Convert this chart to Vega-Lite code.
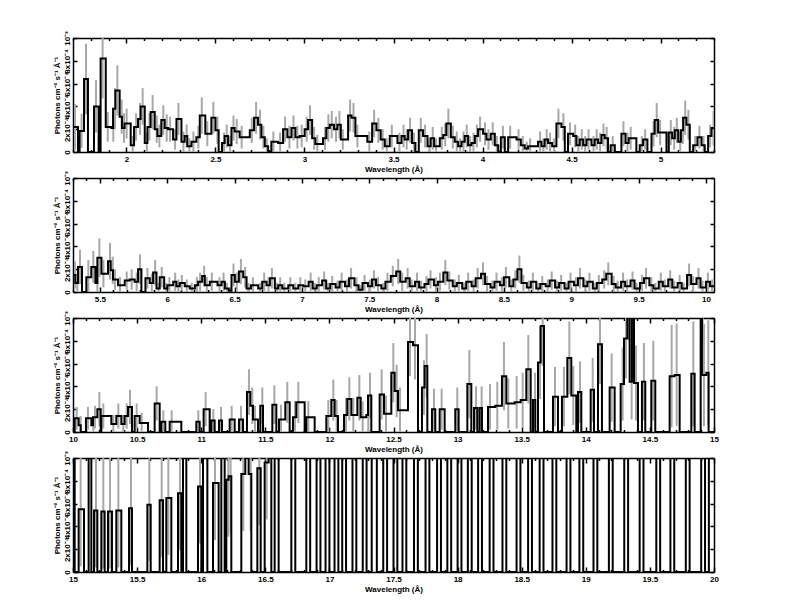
{
"$schema":"https://vega.github.io/schema/vega-lite/v6.json",
"background":"white",
"padding":{"left":53,"top":30,"right":5,"bottom":5},
"spacing":-4,
"config":{"view":{"stroke":null},"font":"Liberation Sans",
"axis":{"domainColor":"black","domainWidth":1.5,"tickColor":"black","tickWidth":1.5,"grid":false,"labelFontSize":8,"labelFontWeight":"bold","labelColor":"black","titleFontSize":8,"titleFontWeight":"bold","titleColor":"black","labelOverlap":false,"labelFlush":false,"labelBound":false}},
"datasets":{
"p1":[
{"w":1.700,"f":2.2,"e":2.0},{"w":1.728,"f":0,"e":0},{"w":1.737,"f":1.85,"e":1.5},{"w":1.762,"f":6.4,"e":3.1},{"w":1.784,"f":0,"e":0},{"w":1.818,"f":4.0,"e":2.3},{"w":1.844,"f":0,"e":0},{"w":1.855,"f":8.2,"e":3.5},{"w":1.884,"f":2.2,"e":1.3},{"w":1.915,"f":2.1,"e":1.2},{"w":1.925,"f":3.8,"e":1.8},{"w":1.938,"f":5.4,"e":2.2},{"w":1.962,"f":3.1,"e":1.5},{"w":1.975,"f":2.1,"e":1.3},{"w":1.990,"f":2.5,"e":1.3},{"w":2.024,"f":0.6,"e":0.8},{"w":2.043,"f":2.2,"e":1.2},{"w":2.065,"f":2.9,"e":1.4},{"w":2.080,"f":4.0,"e":1.6},{"w":2.103,"f":0.8,"e":0.9},{"w":2.118,"f":2.2,"e":1.2},{"w":2.136,"f":3.5,"e":1.5},{"w":2.159,"f":2.0,"e":1.2},{"w":2.174,"f":1.4,"e":1.0},{"w":2.196,"f":2.8,"e":1.3},{"w":2.215,"f":2.1,"e":1.2},{"w":2.234,"f":2.0,"e":1.1},{"w":2.262,"f":1.1,"e":0.9},{"w":2.281,"f":2.9,"e":1.4},{"w":2.309,"f":0.9,"e":0.9},{"w":2.327,"f":1.4,"e":1.0},{"w":2.342,"f":0.5,"e":0.7},{"w":2.365,"f":0.9,"e":0.9},{"w":2.393,"f":1.3,"e":1.0},{"w":2.412,"f":3.2,"e":1.6},{"w":2.443,"f":1.6,"e":1.1},{"w":2.477,"f":3.0,"e":1.4},{"w":2.500,"f":1.9,"e":1.2},{"w":2.518,"f":0,"e":0},{"w":2.537,"f":0.8,"e":0.9},{"w":2.552,"f":1.4,"e":1.0},{"w":2.571,"f":0.6,"e":0.8},{"w":2.590,"f":2.1,"e":1.1},{"w":2.608,"f":1.8,"e":1.1},{"w":2.636,"f":1.3,"e":1.0},{"w":2.693,"f":1.9,"e":1.1},{"w":2.717,"f":3.0,"e":1.4},{"w":2.739,"f":2.4,"e":1.3},{"w":2.758,"f":1.3,"e":1.0},{"w":2.777,"f":0.5,"e":0.7},{"w":2.796,"f":0,"e":0},{"w":2.814,"f":0.9,"e":0.9},{"w":2.852,"f":0.8,"e":0.9},{"w":2.880,"f":2.0,"e":1.1},{"w":2.904,"f":1.3,"e":1.0},{"w":2.927,"f":2.1,"e":1.1},{"w":2.949,"f":1.3,"e":1.0},{"w":2.973,"f":1.4,"e":1.0},{"w":3.001,"f":2.0,"e":1.1},{"w":3.020,"f":2.8,"e":1.3},{"w":3.043,"f":1.2,"e":1.0},{"w":3.061,"f":0.7,"e":0.8},{"w":3.104,"f":1.2,"e":1.0},{"w":3.123,"f":2.1,"e":1.2},{"w":3.142,"f":2.4,"e":1.2},{"w":3.166,"f":2.0,"e":1.1},{"w":3.185,"f":2.4,"e":1.2},{"w":3.204,"f":1.1,"e":0.9},{"w":3.245,"f":3.2,"e":1.4},{"w":3.264,"f":3.0,"e":1.3},{"w":3.286,"f":1.4,"e":1.0},{"w":3.353,"f":0.9,"e":0.9},{"w":3.380,"f":2.5,"e":1.2},{"w":3.404,"f":1.9,"e":1.1},{"w":3.428,"f":1.1,"e":0.9},{"w":3.451,"f":0.5,"e":0.7},{"w":3.479,"f":1.4,"e":1.0},{"w":3.522,"f":0.8,"e":0.9},{"w":3.545,"f":1.4,"e":1.0},{"w":3.563,"f":1.1,"e":0.9},{"w":3.582,"f":1.9,"e":1.1},{"w":3.604,"f":0.8,"e":0.9},{"w":3.623,"f":0,"e":0},{"w":3.642,"f":1.9,"e":1.1},{"w":3.666,"f":1.4,"e":1.0},{"w":3.691,"f":0.5,"e":0.7},{"w":3.709,"f":1.2,"e":1.0},{"w":3.728,"f":0.5,"e":0.7},{"w":3.760,"f":1.2,"e":1.0},{"w":3.779,"f":1.5,"e":1.0},{"w":3.797,"f":2.5,"e":1.3},{"w":3.822,"f":1.3,"e":1.0},{"w":3.844,"f":0.9,"e":0.9},{"w":3.863,"f":0.5,"e":0.7},{"w":3.882,"f":0.9,"e":0.9},{"w":3.900,"f":1.4,"e":1.0},{"w":3.919,"f":0.6,"e":0.8},{"w":3.938,"f":0.8,"e":0.9},{"w":3.957,"f":1.4,"e":1.0},{"w":3.975,"f":2.0,"e":1.1},{"w":4.003,"f":1.6,"e":1.0},{"w":4.022,"f":1.1,"e":0.9},{"w":4.046,"f":1.6,"e":1.0},{"w":4.069,"f":0.6,"e":0.8},{"w":4.088,"f":0,"e":0},{"w":4.103,"f":1.3,"e":1.0},{"w":4.125,"f":0,"e":0},{"w":4.144,"f":1.3,"e":1.0},{"w":4.191,"f":1.1,"e":0.9},{"w":4.215,"f":0.6,"e":0.8},{"w":4.237,"f":0.3,"e":0.6},{"w":4.256,"f":0.5,"e":0.7},{"w":4.312,"f":0.9,"e":0.9},{"w":4.331,"f":0.5,"e":0.7},{"w":4.349,"f":1.1,"e":0.9},{"w":4.368,"f":0.8,"e":0.9},{"w":4.391,"f":0.5,"e":0.7},{"w":4.415,"f":2.5,"e":1.3},{"w":4.443,"f":2.2,"e":1.2},{"w":4.462,"f":0,"e":0},{"w":4.480,"f":1.6,"e":1.0},{"w":4.509,"f":1.4,"e":1.0},{"w":4.527,"f":0.6,"e":0.8},{"w":4.546,"f":1.1,"e":0.9},{"w":4.565,"f":0.6,"e":0.8},{"w":4.584,"f":1.1,"e":0.9},{"w":4.612,"f":0.6,"e":0.8},{"w":4.630,"f":1.1,"e":0.9},{"w":4.649,"f":0.8,"e":0.9},{"w":4.668,"f":1.5,"e":1.0},{"w":4.686,"f":1.2,"e":1.0},{"w":4.705,"f":0,"e":0},{"w":4.720,"f":0.6,"e":0.8},{"w":4.743,"f":0,"e":0},{"w":4.780,"f":1.6,"e":1.1},{"w":4.803,"f":0.8,"e":0.9},{"w":4.821,"f":1.2,"e":1.0},{"w":4.864,"f":0,"e":0},{"w":4.883,"f":0.6,"e":0.8},{"w":4.902,"f":1.1,"e":0.9},{"w":4.926,"f":0,"e":0},{"w":4.949,"f":1.6,"e":1.1},{"w":4.967,"f":2.8,"e":1.5},{"w":4.986,"f":1.7,"e":1.1},{"w":5.033,"f":0,"e":0},{"w":5.046,"f":1.7,"e":1.1},{"w":5.065,"f":1.2,"e":1.0},{"w":5.080,"f":1.9,"e":1.1},{"w":5.099,"f":0.9,"e":0.9},{"w":5.114,"f":1.9,"e":1.2},{"w":5.127,"f":3.0,"e":1.5},{"w":5.145,"f":2.4,"e":1.3},{"w":5.164,"f":0,"e":0},{"w":5.183,"f":0.6,"e":0.8},{"w":5.207,"f":1.3,"e":1.0},{"w":5.230,"f":0.6,"e":0.8},{"w":5.248,"f":0,"e":0},{"w":5.267,"f":1.4,"e":1.0},{"w":5.286,"f":2.1,"e":1.5},{"w":5.300,"f":2.1,"e":0}
],
"p2":[
{"w":5.300,"f":1.5,"e":1.2},{"w":5.317,"f":0.8,"e":0.9},{"w":5.337,"f":2.2,"e":1.5},{"w":5.367,"f":0,"e":0},{"w":5.399,"f":1.3,"e":1.5},{"w":5.436,"f":2.2,"e":1.4},{"w":5.466,"f":0.8,"e":1.0},{"w":5.481,"f":3.0,"e":1.7},{"w":5.511,"f":1.6,"e":1.2},{"w":5.560,"f":2.7,"e":1.6},{"w":5.580,"f":1.9,"e":1.2},{"w":5.597,"f":1.1,"e":0.9},{"w":5.634,"f":0.6,"e":0.7},{"w":5.684,"f":1.0,"e":0.8},{"w":5.721,"f":1.1,"e":0.9},{"w":5.758,"f":0.9,"e":0.8},{"w":5.783,"f":2.0,"e":1.3},{"w":5.808,"f":0,"e":0},{"w":5.838,"f":1.2,"e":0.9},{"w":5.870,"f":0.8,"e":0.8},{"w":5.895,"f":1.7,"e":1.1},{"w":5.920,"f":0.3,"e":0.5},{"w":5.944,"f":1.3,"e":0.9},{"w":5.977,"f":0.3,"e":0.5},{"w":6.001,"f":0.6,"e":0.7},{"w":6.044,"f":0.9,"e":0.8},{"w":6.068,"f":0.5,"e":0.6},{"w":6.093,"f":0.8,"e":0.7},{"w":6.130,"f":0.5,"e":0.6},{"w":6.167,"f":0.3,"e":0.5},{"w":6.205,"f":0.6,"e":0.7},{"w":6.229,"f":0.9,"e":0.8},{"w":6.259,"f":1.4,"e":0.9},{"w":6.279,"f":0.6,"e":0.7},{"w":6.316,"f":0.9,"e":0.8},{"w":6.373,"f":0.6,"e":0.7},{"w":6.403,"f":0.9,"e":0.8},{"w":6.428,"f":0.3,"e":0.5},{"w":6.457,"f":0.1,"e":0.3},{"w":6.477,"f":1.5,"e":1.0},{"w":6.502,"f":0.9,"e":0.8},{"w":6.532,"f":1.8,"e":1.1},{"w":6.564,"f":1.3,"e":0.9},{"w":6.589,"f":0.3,"e":0.5},{"w":6.621,"f":0.6,"e":0.7},{"w":6.675,"f":0.3,"e":0.5},{"w":6.705,"f":0.9,"e":0.8},{"w":6.737,"f":0.6,"e":0.7},{"w":6.762,"f":1.2,"e":0.9},{"w":6.799,"f":0.3,"e":0.5},{"w":6.824,"f":0.6,"e":0.7},{"w":6.854,"f":0.3,"e":0.5},{"w":6.899,"f":0.6,"e":0.7},{"w":6.936,"f":0.3,"e":0.5},{"w":6.973,"f":0.6,"e":0.7},
{"w":7.01,"f":0.5,"e":0.6},{"w":7.05,"f":0.9,"e":0.8},{"w":7.08,"f":0.3,"e":0.5},{"w":7.11,"f":0.6,"e":0.7},{"w":7.15,"f":1.0,"e":0.8},{"w":7.18,"f":0.3,"e":0.5},{"w":7.21,"f":0.7,"e":0.7},{"w":7.25,"f":0.4,"e":0.6},{"w":7.28,"f":0.9,"e":0.8},{"w":7.32,"f":0.5,"e":0.6},{"w":7.35,"f":1.2,"e":0.9},{"w":7.39,"f":0.6,"e":0.7},{"w":7.42,"f":0.2,"e":0.4},{"w":7.45,"f":0.8,"e":0.7},{"w":7.49,"f":0.5,"e":0.6},{"w":7.52,"f":1.1,"e":0.8},{"w":7.55,"f":0.6,"e":0.7},{"w":7.59,"f":0.3,"e":0.5},{"w":7.62,"f":0.9,"e":0.8},{"w":7.66,"f":1.4,"e":0.9},{"w":7.70,"f":1.8,"e":1.1},{"w":7.73,"f":0.9,"e":0.8},{"w":7.77,"f":1.2,"e":0.9},{"w":7.80,"f":0.5,"e":0.6},{"w":7.84,"f":0.9,"e":0.8},{"w":7.87,"f":0.4,"e":0.6},{"w":7.91,"f":0.7,"e":0.7},{"w":7.94,"f":1.1,"e":0.8},{"w":7.98,"f":0.6,"e":0.7},{"w":8.01,"f":0.9,"e":0.8},{"w":8.05,"f":1.7,"e":1.1},{"w":8.08,"f":1.0,"e":0.8},{"w":8.12,"f":0.5,"e":0.6},{"w":8.15,"f":0.8,"e":0.7},{"w":8.19,"f":0.3,"e":0.5},{"w":8.22,"f":0.9,"e":0.8},{"w":8.26,"f":0.5,"e":0.6},{"w":8.29,"f":1.2,"e":0.9},{"w":8.33,"f":1.6,"e":1.0},{"w":8.36,"f":0.7,"e":0.7},{"w":8.40,"f":0.4,"e":0.6},{"w":8.43,"f":0.9,"e":0.8},{"w":8.47,"f":0.6,"e":0.7},{"w":8.50,"f":1.3,"e":0.9},{"w":8.54,"f":0.5,"e":0.6},{"w":8.57,"f":1.1,"e":0.8},{"w":8.60,"f":2.0,"e":1.2},{"w":8.63,"f":0.8,"e":0.7},{"w":8.67,"f":0.4,"e":0.6},{"w":8.70,"f":0.9,"e":0.8},{"w":8.74,"f":0.3,"e":0.5},{"w":8.77,"f":0.7,"e":0.7},{"w":8.81,"f":0.5,"e":0.6},{"w":8.84,"f":1.0,"e":0.8},{"w":8.88,"f":0.4,"e":0.6},{"w":8.91,"f":0.8,"e":0.7},{"w":8.95,"f":0.3,"e":0.5},{"w":8.98,"f":0.9,"e":0.8},{"w":9.02,"f":0.6,"e":0.7},{"w":9.05,"f":1.2,"e":0.9},{"w":9.09,"f":0.5,"e":0.6},{"w":9.12,"f":0.9,"e":0.8},{"w":9.16,"f":0.3,"e":0.5},{"w":9.19,"f":0.8,"e":0.7},{"w":9.23,"f":1.1,"e":0.8},{"w":9.26,"f":1.6,"e":1.0},{"w":9.30,"f":0.7,"e":0.7},{"w":9.33,"f":0.4,"e":0.6},{"w":9.37,"f":0.9,"e":0.8},{"w":9.40,"f":0.5,"e":0.6},{"w":9.44,"f":1.0,"e":0.8},{"w":9.47,"f":0.3,"e":0.5},{"w":9.51,"f":0.8,"e":0.7},{"w":9.54,"f":1.2,"e":0.9},{"w":9.58,"f":0.6,"e":0.7},{"w":9.61,"f":0.3,"e":0.5},{"w":9.65,"f":0.9,"e":0.8},{"w":9.68,"f":0.5,"e":0.6},{"w":9.72,"f":1.1,"e":0.8},{"w":9.75,"f":0.4,"e":0.6},{"w":9.79,"f":0.8,"e":0.7},{"w":9.82,"f":0.3,"e":0.5},{"w":9.86,"f":1.5,"e":1.0},{"w":9.89,"f":0.7,"e":0.7},{"w":9.93,"f":1.2,"e":0.9},{"w":9.96,"f":0.4,"e":0.6},{"w":10.00,"f":0.9,"e":0.8},{"w":10.03,"f":0.5,"e":0.6},{"w":10.06,"f":0.5,"e":0}
],
"p3":[
{"w":10.000,"f":0,"e":0},{"w":10.013,"f":1.2,"e":1.0},{"w":10.044,"f":0.6,"e":0.8},{"w":10.060,"f":0,"e":0},{"w":10.101,"f":1.2,"e":1.0},{"w":10.143,"f":0.6,"e":0.8},{"w":10.156,"f":1.3,"e":1.0},{"w":10.190,"f":2.0,"e":1.5},{"w":10.216,"f":0,"e":0},{"w":10.221,"f":1.4,"e":1.1},{"w":10.299,"f":0.7,"e":0.8},{"w":10.338,"f":1.4,"e":1.1},{"w":10.377,"f":0.7,"e":0.8},{"w":10.403,"f":1.4,"e":1.1},{"w":10.429,"f":2.2,"e":1.5},{"w":10.460,"f":0,"e":0},{"w":10.481,"f":1.4,"e":1.1},{"w":10.520,"f":0.8,"e":0.9},{"w":10.585,"f":0,"e":0},{"w":10.637,"f":2.5,"e":1.5},{"w":10.676,"f":0,"e":0},{"w":10.689,"f":0.9,"e":1.0},{"w":10.720,"f":0,"e":0},{"w":10.754,"f":0.9,"e":1.0},{"w":10.845,"f":0,"e":0},{"w":10.962,"f":0.9,"e":1.0},{"w":10.988,"f":0,"e":0},{"w":11.019,"f":2.0,"e":1.5},{"w":11.066,"f":0,"e":0},{"w":11.079,"f":1.0,"e":1.0},{"w":11.105,"f":0,"e":0},{"w":11.139,"f":1.0,"e":1.2},{"w":11.162,"f":0,"e":0},{"w":11.222,"f":1.1,"e":1.2},{"w":11.261,"f":0,"e":0},{"w":11.295,"f":1.1,"e":1.2},{"w":11.326,"f":0,"e":0},{"w":11.357,"f":3.5,"e":2.0},{"w":11.383,"f":2.3,"e":1.6},{"w":11.404,"f":1.1,"e":1.2},{"w":11.443,"f":0,"e":0},{"w":11.461,"f":2.3,"e":1.6},{"w":11.482,"f":0,"e":0},{"w":11.555,"f":2.4,"e":1.7},{"w":11.586,"f":0,"e":0},{"w":11.607,"f":1.1,"e":1.3},{"w":11.656,"f":2.6,"e":1.8},{"w":11.690,"f":0,"e":0},{"w":11.716,"f":1.3,"e":1.4},{"w":11.742,"f":2.6,"e":1.8},{"w":11.807,"f":0,"e":0},{"w":11.820,"f":1.3,"e":1.4},{"w":11.885,"f":0,"e":0},{"w":11.976,"f":1.4,"e":1.4},{"w":12.015,"f":2.8,"e":1.8},{"w":12.041,"f":1.4,"e":1.4},{"w":12.067,"f":0,"e":0},{"w":12.114,"f":1.5,"e":1.5},{"w":12.140,"f":2.9,"e":1.9},{"w":12.171,"f":1.5,"e":1.5},{"w":12.218,"f":3.0,"e":2.0},{"w":12.244,"f":1.3,"e":1.4},{"w":12.288,"f":1.5,"e":1.5},{"w":12.301,"f":3.2,"e":2.0},{"w":12.327,"f":0,"e":0},{"w":12.392,"f":3.3,"e":2.2},{"w":12.426,"f":1.6,"e":1.6},{"w":12.483,"f":5.2,"e":2.6},{"w":12.509,"f":3.6,"e":2.3},{"w":12.535,"f":1.9,"e":2.0},{"w":12.613,"f":7.9,"e":3.0},{"w":12.652,"f":7.6,"e":3.0},{"w":12.691,"f":0,"e":0},{"w":12.722,"f":3.9,"e":2.4},{"w":12.743,"f":5.8,"e":2.8},{"w":12.764,"f":0,"e":0},{"w":12.800,"f":2.0,"e":1.8},{"w":12.826,"f":0,"e":0},{"w":12.860,"f":2.0,"e":1.8},{"w":12.899,"f":0,"e":0},{"w":12.982,"f":2.0,"e":1.9},{"w":13.008,"f":0,"e":0},{"w":13.076,"f":4.2,"e":3.0},{"w":13.107,"f":0,"e":0},{"w":13.128,"f":2.1,"e":1.9},{"w":13.154,"f":0,"e":0},{"w":13.172,"f":2.1,"e":1.9},{"w":13.190,"f":0,"e":0},{"w":13.237,"f":2.2,"e":2.0},{"w":13.294,"f":2.3,"e":2.1},{"w":13.346,"f":4.9,"e":3.0},{"w":13.380,"f":2.5,"e":2.2},{"w":13.445,"f":2.6,"e":2.3},{"w":13.492,"f":2.8,"e":2.4},{"w":13.536,"f":5.5,"e":3.0},{"w":13.570,"f":0,"e":0},{"w":13.588,"f":2.8,"e":2.4},{"w":13.606,"f":0,"e":0},{"w":13.627,"f":6.1,"e":3.2},{"w":13.648,"f":9.3,"e":3.5},{"w":13.674,"f":0,"e":0},{"w":13.744,"f":3.1,"e":2.6},{"w":13.783,"f":0,"e":0},{"w":13.814,"f":3.1,"e":2.6},{"w":13.856,"f":6.5,"e":3.2},{"w":13.887,"f":3.2,"e":2.6},{"w":13.926,"f":0,"e":0},{"w":13.939,"f":3.5,"e":2.7},{"w":13.965,"f":0,"e":0},{"w":14.038,"f":3.7,"e":2.8},{"w":14.064,"f":0,"e":0},{"w":14.095,"f":7.7,"e":3.5},{"w":14.126,"f":0,"e":0},{"w":14.186,"f":3.9,"e":3.0},{"w":14.225,"f":0,"e":0},{"w":14.272,"f":4.2,"e":3.2},{"w":14.298,"f":8.2,"e":3.5},{"w":14.324,"f":12,"e":4},{"w":14.342,"f":4.4,"e":3.3},{"w":14.360,"f":12,"e":4},{"w":14.376,"f":4.3,"e":3.3},{"w":14.407,"f":0,"e":0},{"w":14.438,"f":4.4,"e":3.4},{"w":14.464,"f":0,"e":0},{"w":14.511,"f":4.5,"e":3.5},{"w":14.542,"f":0,"e":0},{"w":14.654,"f":4.9,"e":4.5},{"w":14.693,"f":5.0,"e":4.5},{"w":14.732,"f":0,"e":0},{"w":14.823,"f":5.1,"e":4.6},{"w":14.849,"f":0,"e":0},{"w":14.896,"f":12,"e":4},{"w":14.906,"f":5.0,"e":4.5},{"w":14.940,"f":5.2,"e":4.6},{"w":14.958,"f":0,"e":0},{"w":15.000,"f":0,"e":0}
],
"p4":[
{"w":15.000,"f":12,"e":0},{"w":15.013,"f":0,"e":0},{"w":15.044,"f":5.5,"e":5},{"w":15.086,"f":0,"e":0},{"w":15.122,"f":12,"e":0},{"w":15.143,"f":0,"e":0},{"w":15.164,"f":5.4,"e":5},{"w":15.190,"f":0,"e":0},{"w":15.221,"f":5.3,"e":5},{"w":15.247,"f":0,"e":0},{"w":15.273,"f":5.3,"e":5},{"w":15.304,"f":0,"e":0},{"w":15.338,"f":5.4,"e":5},{"w":15.377,"f":0,"e":0},{"w":15.437,"f":5.6,"e":5},{"w":15.460,"f":0,"e":0},{"w":15.580,"f":5.9,"e":5},{"w":15.606,"f":0,"e":0},{"w":15.676,"f":6.3,"e":5},{"w":15.702,"f":0,"e":0},{"w":15.728,"f":6.5,"e":5},{"w":15.767,"f":0,"e":0},{"w":15.819,"f":6.9,"e":5},{"w":15.845,"f":0,"e":0},{"w":15.858,"f":12,"e":0},{"w":15.884,"f":0,"e":0},{"w":15.975,"f":7.5,"e":5},{"w":16.001,"f":0,"e":0},{"w":16.014,"f":12,"e":0},{"w":16.048,"f":0,"e":0},{"w":16.092,"f":7.8,"e":5},{"w":16.136,"f":0,"e":0},{"w":16.157,"f":12,"e":0},{"w":16.183,"f":0,"e":0},{"w":16.196,"f":8.1,"e":5},{"w":16.214,"f":8.4,"e":5},{"w":16.235,"f":0,"e":0},{"w":16.313,"f":8.6,"e":5},{"w":16.344,"f":12,"e":0},{"w":16.370,"f":8.6,"e":5},{"w":16.391,"f":0,"e":0},{"w":16.438,"f":9.1,"e":5},{"w":16.464,"f":0,"e":0},{"w":16.495,"f":9.6,"e":5},{"w":16.526,"f":12,"e":0},{"w":16.547,"f":0,"e":0},{"w":16.573,"f":12,"e":0},{"w":16.604,"f":0,"e":0},{"w":16.703,"f":12,"e":0},{"w":16.734,"f":0,"e":0},{"w":16.820,"f":12,"e":0},{"w":16.85,"f":0,"e":0},{"w":16.90,"f":12,"e":0},{"w":16.93,"f":0,"e":0},{"w":16.97,"f":12,"e":0},{"w":17.00,"f":0,"e":0},{"w":17.04,"f":12,"e":0},{"w":17.07,"f":0,"e":0},{"w":17.10,"f":12,"e":0},{"w":17.13,"f":0,"e":0},{"w":17.18,"f":12,"e":0},{"w":17.21,"f":0,"e":0},{"w":17.26,"f":12,"e":0},{"w":17.29,"f":0,"e":0},{"w":17.33,"f":12,"e":0},{"w":17.37,"f":0,"e":0},{"w":17.42,"f":12,"e":0},{"w":17.45,"f":0,"e":0},{"w":17.50,"f":12,"e":0},{"w":17.53,"f":0,"e":0},{"w":17.57,"f":12,"e":0},{"w":17.60,"f":0,"e":0},{"w":17.66,"f":12,"e":0},{"w":17.69,"f":0,"e":0},{"w":17.75,"f":12,"e":0},{"w":17.78,"f":0,"e":0},{"w":17.84,"f":12,"e":0},{"w":17.87,"f":0,"e":0},{"w":17.92,"f":12,"e":0},{"w":17.95,"f":0,"e":0},{"w":18.00,"f":12,"e":0},{"w":18.03,"f":0,"e":0},{"w":18.08,"f":12,"e":0},{"w":18.11,"f":0,"e":0},{"w":18.16,"f":12,"e":0},{"w":18.19,"f":0,"e":0},{"w":18.25,"f":12,"e":0},{"w":18.28,"f":0,"e":0},{"w":18.35,"f":12,"e":0},{"w":18.38,"f":0,"e":0},{"w":18.46,"f":12,"e":0},{"w":18.49,"f":0,"e":0},{"w":18.55,"f":12,"e":0},{"w":18.58,"f":0,"e":0},{"w":18.64,"f":12,"e":0},{"w":18.67,"f":0,"e":0},{"w":18.74,"f":12,"e":0},{"w":18.77,"f":0,"e":0},{"w":18.85,"f":12,"e":0},{"w":18.88,"f":0,"e":0},{"w":18.95,"f":12,"e":0},{"w":18.98,"f":0,"e":0},{"w":19.06,"f":12,"e":0},{"w":19.09,"f":0,"e":0},{"w":19.18,"f":12,"e":0},{"w":19.21,"f":0,"e":0},{"w":19.30,"f":12,"e":0},{"w":19.33,"f":0,"e":0},{"w":19.42,"f":12,"e":0},{"w":19.45,"f":0,"e":0},{"w":19.55,"f":12,"e":0},{"w":19.58,"f":0,"e":0},{"w":19.66,"f":12,"e":0},{"w":19.69,"f":0,"e":0},{"w":19.78,"f":12,"e":0},{"w":19.81,"f":0,"e":0},{"w":19.90,"f":12,"e":0},{"w":19.93,"f":0,"e":0},{"w":19.96,"f":12,"e":0},{"w":20.00,"f":12,"e":0}
]},
"vconcat":[
{"width":641,"height":114,"data":{"name":"p1"},"resolve":{"axis":{"x":"independent","y":"independent"}},
"layer":[
{"mark":{"type":"errorbar","clip":true,"rule":{"xOffset":2,"color":"#a8a8a8","strokeWidth":2}},
"encoding":{"x":{"field":"w","type":"quantitative","scale":{"domain":[1.7,5.3],"nice":false,"zero":false},"axis":{"orient":"top","values":[1.7,1.8,1.9,2,2.1,2.2,2.3,2.4,2.5,2.6,2.7,2.8,2.9,3,3.1,3.2,3.3,3.4,3.5,3.6,3.7,3.8,3.9,4,4.1,4.2,4.3,4.4,4.5,4.6,4.7,4.8,4.9,5,5.1,5.2,5.3],"labels":false,"title":null,"tickSize":{"condition":{"test":"abs(datum.value*2-round(datum.value*2))<0.01","value":-5},"value":-2.5}}},
"y":{"field":"f","type":"quantitative","scale":{"domain":[0,10],"nice":false,"zero":false},"axis":{"orient":"right","values":[0,2,4,6,8,10],"labels":false,"title":null,"tickSize":-4}},
"yError":{"field":"e"}}},
{"mark":{"type":"line","interpolate":"step-after","color":"black","strokeWidth":2,"clip":true},
"encoding":{"x":{"field":"w","type":"quantitative","axis":{"orient":"bottom","values":[1.7,1.8,1.9,2,2.1,2.2,2.3,2.4,2.5,2.6,2.7,2.8,2.9,3,3.1,3.2,3.3,3.4,3.5,3.6,3.7,3.8,3.9,4,4.1,4.2,4.3,4.4,4.5,4.6,4.7,4.8,4.9,5,5.1,5.2,5.3],"labelExpr":"abs(datum.value*2-round(datum.value*2))<0.01 ? format(datum.value,'~g') : ''","title":"Wavelength (Å)","labelPadding":8,"titlePadding":0,"tickSize":{"condition":{"test":"abs(datum.value*2-round(datum.value*2))<0.01","value":-5},"value":-2.5}}},
"y":{"field":"f","type":"quantitative","axis":{"orient":"left","values":[0,2,4,6,8,10],"labelExpr":"datum.value==0 ? '0' : datum.value==10 ? '10⁻³' : datum.value+'x10⁻⁴'","labelAngle":270,"labelAlign":"center","labelBaseline":"bottom","labelPadding":6,"tickSize":-4,"title":"Photons cm⁻² s⁻¹ Å⁻¹","titlePadding":2}}}}
]},
{"width":641,"height":114,"data":{"name":"p2"},"resolve":{"axis":{"x":"independent","y":"independent"}},
"layer":[
{"mark":{"type":"errorbar","clip":true,"rule":{"xOffset":2,"color":"#a8a8a8","strokeWidth":2}},
"encoding":{"x":{"field":"w","type":"quantitative","scale":{"domain":[5.3,10.06],"nice":false,"zero":false},"axis":{"orient":"top","values":[5.3,5.4,5.5,5.6,5.7,5.8,5.9,6,6.1,6.2,6.3,6.4,6.5,6.6,6.7,6.8,6.9,7,7.1,7.2,7.3,7.4,7.5,7.6,7.7,7.8,7.9,8,8.1,8.2,8.3,8.4,8.5,8.6,8.7,8.8,8.9,9,9.1,9.2,9.3,9.4,9.5,9.6,9.7,9.8,9.9,10],"labels":false,"title":null,"tickSize":{"condition":{"test":"abs(datum.value*2-round(datum.value*2))<0.01","value":-5},"value":-2.5}}},
"y":{"field":"f","type":"quantitative","scale":{"domain":[0,10],"nice":false,"zero":false},"axis":{"orient":"right","values":[0,2,4,6,8,10],"labels":false,"title":null,"tickSize":-4}},
"yError":{"field":"e"}}},
{"mark":{"type":"line","interpolate":"step-after","color":"black","strokeWidth":2,"clip":true},
"encoding":{"x":{"field":"w","type":"quantitative","axis":{"orient":"bottom","values":[5.3,5.4,5.5,5.6,5.7,5.8,5.9,6,6.1,6.2,6.3,6.4,6.5,6.6,6.7,6.8,6.9,7,7.1,7.2,7.3,7.4,7.5,7.6,7.7,7.8,7.9,8,8.1,8.2,8.3,8.4,8.5,8.6,8.7,8.8,8.9,9,9.1,9.2,9.3,9.4,9.5,9.6,9.7,9.8,9.9,10],"labelExpr":"abs(datum.value*2-round(datum.value*2))<0.01 ? format(datum.value,'~g') : ''","title":"Wavelength (Å)","labelPadding":8,"titlePadding":0,"tickSize":{"condition":{"test":"abs(datum.value*2-round(datum.value*2))<0.01","value":-5},"value":-2.5}}},
"y":{"field":"f","type":"quantitative","axis":{"orient":"left","values":[0,2,4,6,8,10],"labelExpr":"datum.value==0 ? '0' : datum.value==10 ? '10⁻³' : datum.value+'x10⁻⁴'","labelAngle":270,"labelAlign":"center","labelBaseline":"bottom","labelPadding":6,"tickSize":-4,"title":"Photons cm⁻² s⁻¹ Å⁻¹","titlePadding":2}}}}
]},
{"width":641,"height":114,"data":{"name":"p3"},"resolve":{"axis":{"x":"independent","y":"independent"}},
"layer":[
{"mark":{"type":"errorbar","clip":true,"rule":{"xOffset":2,"color":"#a8a8a8","strokeWidth":2}},
"encoding":{"x":{"field":"w","type":"quantitative","scale":{"domain":[10,15],"nice":false,"zero":false},"axis":{"orient":"top","values":[10,10.1,10.2,10.3,10.4,10.5,10.6,10.7,10.8,10.9,11,11.1,11.2,11.3,11.4,11.5,11.6,11.7,11.8,11.9,12,12.1,12.2,12.3,12.4,12.5,12.6,12.7,12.8,12.9,13,13.1,13.2,13.3,13.4,13.5,13.6,13.7,13.8,13.9,14,14.1,14.2,14.3,14.4,14.5,14.6,14.7,14.8,14.9,15],"labels":false,"title":null,"tickSize":{"condition":{"test":"abs(datum.value*2-round(datum.value*2))<0.01","value":-5},"value":-2.5}}},
"y":{"field":"f","type":"quantitative","scale":{"domain":[0,10],"nice":false,"zero":false},"axis":{"orient":"right","values":[0,2,4,6,8,10],"labels":false,"title":null,"tickSize":-4}},
"yError":{"field":"e"}}},
{"mark":{"type":"line","interpolate":"step-after","color":"black","strokeWidth":2,"clip":true},
"encoding":{"x":{"field":"w","type":"quantitative","axis":{"orient":"bottom","values":[10,10.1,10.2,10.3,10.4,10.5,10.6,10.7,10.8,10.9,11,11.1,11.2,11.3,11.4,11.5,11.6,11.7,11.8,11.9,12,12.1,12.2,12.3,12.4,12.5,12.6,12.7,12.8,12.9,13,13.1,13.2,13.3,13.4,13.5,13.6,13.7,13.8,13.9,14,14.1,14.2,14.3,14.4,14.5,14.6,14.7,14.8,14.9,15],"labelExpr":"abs(datum.value*2-round(datum.value*2))<0.01 ? format(datum.value,'~g') : ''","title":"Wavelength (Å)","labelPadding":8,"titlePadding":0,"tickSize":{"condition":{"test":"abs(datum.value*2-round(datum.value*2))<0.01","value":-5},"value":-2.5}}},
"y":{"field":"f","type":"quantitative","axis":{"orient":"left","values":[0,2,4,6,8,10],"labelExpr":"datum.value==0 ? '0' : datum.value==10 ? '10⁻³' : datum.value+'x10⁻⁴'","labelAngle":270,"labelAlign":"center","labelBaseline":"bottom","labelPadding":6,"tickSize":-4,"title":"Photons cm⁻² s⁻¹ Å⁻¹","titlePadding":2}}}}
]},
{"width":641,"height":114,"data":{"name":"p4"},"resolve":{"axis":{"x":"independent","y":"independent"}},
"layer":[
{"mark":{"type":"errorbar","clip":true,"rule":{"xOffset":2,"color":"#a8a8a8","strokeWidth":2}},
"encoding":{"x":{"field":"w","type":"quantitative","scale":{"domain":[15,20],"nice":false,"zero":false},"axis":{"orient":"top","values":[15,15.1,15.2,15.3,15.4,15.5,15.6,15.7,15.8,15.9,16,16.1,16.2,16.3,16.4,16.5,16.6,16.7,16.8,16.9,17,17.1,17.2,17.3,17.4,17.5,17.6,17.7,17.8,17.9,18,18.1,18.2,18.3,18.4,18.5,18.6,18.7,18.8,18.9,19,19.1,19.2,19.3,19.4,19.5,19.6,19.7,19.8,19.9,20],"labels":false,"title":null,"tickSize":{"condition":{"test":"abs(datum.value*2-round(datum.value*2))<0.01","value":-5},"value":-2.5}}},
"y":{"field":"f","type":"quantitative","scale":{"domain":[0,10],"nice":false,"zero":false},"axis":{"orient":"right","values":[0,2,4,6,8,10],"labels":false,"title":null,"tickSize":-4}},
"yError":{"field":"e"}}},
{"mark":{"type":"line","interpolate":"step-after","color":"black","strokeWidth":2,"clip":true},
"encoding":{"x":{"field":"w","type":"quantitative","axis":{"orient":"bottom","values":[15,15.1,15.2,15.3,15.4,15.5,15.6,15.7,15.8,15.9,16,16.1,16.2,16.3,16.4,16.5,16.6,16.7,16.8,16.9,17,17.1,17.2,17.3,17.4,17.5,17.6,17.7,17.8,17.9,18,18.1,18.2,18.3,18.4,18.5,18.6,18.7,18.8,18.9,19,19.1,19.2,19.3,19.4,19.5,19.6,19.7,19.8,19.9,20],"labelExpr":"abs(datum.value*2-round(datum.value*2))<0.01 ? format(datum.value,'~g') : ''","title":"Wavelength (Å)","labelPadding":8,"titlePadding":0,"tickSize":{"condition":{"test":"abs(datum.value*2-round(datum.value*2))<0.01","value":-5},"value":-2.5}}},
"y":{"field":"f","type":"quantitative","axis":{"orient":"left","values":[0,2,4,6,8,10],"labelExpr":"datum.value==0 ? '0' : datum.value==10 ? '10⁻³' : datum.value+'x10⁻⁴'","labelAngle":270,"labelAlign":"center","labelBaseline":"bottom","labelPadding":6,"tickSize":-4,"title":"Photons cm⁻² s⁻¹ Å⁻¹","titlePadding":2}}}}
]}
]}
